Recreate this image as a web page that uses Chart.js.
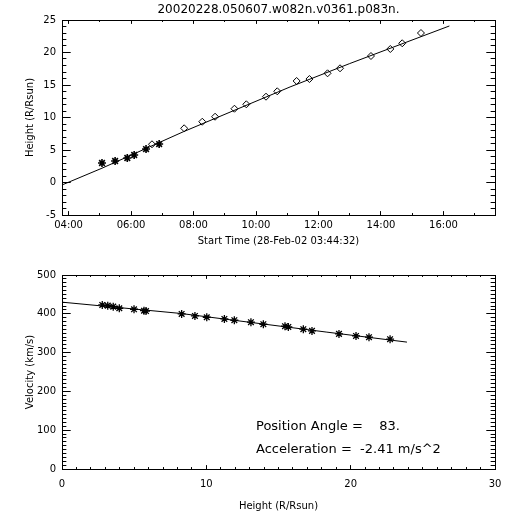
<!DOCTYPE html>
<html>
<head>
<meta charset="utf-8">
<script src="https://cdn.jsdelivr.net/npm/chart.js@4.4.0/dist/chart.umd.min.js"></script>
<style>
  body { margin: 0; background: #fff; }
  canvas { position: absolute; left: 0; }
</style>
</head>
<body>
<canvas id="topChart" width="512" height="262" style="top:0"></canvas>
<canvas id="botChart" width="512" height="250" style="top:262px"></canvas>
<script>
const plotTitle = '20020228.050607.w082n.v0361.p083n.'

// top panel: time (hours of 28-Feb-02) vs height (R/Rsun)
const starTimes = [5.07, 5.49, 5.88, 6.10, 6.48, 6.90]
const starHeights = [3.0, 3.31, 3.77, 4.23, 5.15, 5.92]
const diamondTimes = [6.67, 7.70, 8.28, 8.69, 9.31, 9.69, 10.32, 10.68, 11.30, 11.71, 12.29, 12.69, 13.68, 14.30, 14.68, 15.28]
const diamondHeights = [5.88, 8.34, 9.35, 10.12, 11.35, 12.03, 13.2, 14.03, 15.62, 15.92, 16.8, 17.57, 19.46, 20.54, 21.42, 23.0]
const fitTimes = [3.79, 5.07, 7.67, 11.09, 13.0, 16.19]
const fitHeights = [-0.38, 2.2, 7.8, 14.7, 18.3, 24.08]
const timeTicks = [4, 6, 8, 10, 12, 14, 16]
const timeMinor = [5, 7, 9, 11, 13, 15, 17]
const heightTicks = [-5, 0, 5, 10, 15, 20, 25]

// bottom panel: height (R/Rsun) vs velocity (km/s)
const velHeights = [2.79, 3.17, 3.55, 3.97, 4.99, 5.68, 5.82, 8.29, 9.21, 10.03, 11.25, 11.94, 13.09, 13.95, 15.45, 15.68, 16.72, 17.32, 19.19, 20.37, 21.27, 22.73]
const velocities = [422.8, 421, 418.4, 414.3, 411.7, 408, 407, 399.6, 394.5, 391.1, 386.8, 383.4, 378.3, 373.1, 368, 366.2, 360.3, 355.9, 348.2, 343, 339.7, 334.5]
const velFitHeights = [0, 8.2, 18.3, 23.9]
const velFitValues = [430, 401, 353, 327]
const rTicks = [0, 10, 20, 30]
const velTicks = [0, 100, 200, 300, 400, 500]

const notes = ['Position Angle =    83.', 'Acceleration =  -2.41 m/s^2']

const FONT = 'DejaVu Sans'
Chart.defaults.color = '#000'
Chart.defaults.font.family = FONT

function pts(xs, ys) {
	return xs.map((x, i) => ({x: x, y: ys[i]}))
}

// minor tick positions between the majors
function minors(from, to, step, every) {
	const out = []
	for (let i = 0, v = from; v <= to + 1e-9; i++, v = from + i * step) {
		if (i % every) out.push(v)
	}
	return out
}

// text in the lower panel
const notesPlugin = {
	id: 'notes',
	afterDraw(chart, args, o) {
		if (!o.lines) return
		const ctx = chart.ctx, a = chart.chartArea
		ctx.save()
		ctx.fillStyle = '#000'
		ctx.font = '13px "' + FONT + '"'
		ctx.textBaseline = 'alphabetic'
		o.lines.forEach((t, i) => ctx.fillText(t, a.left + 194, a.top + 155 + i * 23))
		ctx.restore()
	}
}

// zero-size axis that only draws inward tick marks (and optionally the box edge)
function tickAxis(pos, min, max, values, len, border) {
	return {
		type: 'linear', position: pos, min: min, max: max, weight: 0,
		afterBuildTicks: s => { s.ticks = values.map(v => ({value: v})) },
		afterFit: s => { if (s.isHorizontal()) s.height = 0; else s.width = 0 },
		ticks: {display: false},
		grid: {display: true, drawOnChartArea: false, drawTicks: true, tickLength: -len, tickColor: '#000'},
		border: {display: border, color: '#000', width: 1},
	}
}

// labelled axis (bottom / left), no tick marks of its own
function mainAxis(min, max, values, extra) {
	return Object.assign({
		type: 'linear', min: min, max: max, weight: 1,
		afterBuildTicks: s => { s.ticks = values.map(v => ({value: v})) },
		grid: {display: false, drawTicks: false},
		border: {display: true, color: '#000', width: 1},
	}, extra)
}

// top chart
const tXLen = 3.9, tYLen = 8.7
const hMinor = minors(-5, 25, 1, 5)
new Chart(document.getElementById('topChart'), {
	type: 'scatter',
	data: {
		datasets: [
			{data: pts(fitTimes, fitHeights), showLine: true, borderColor: '#000', borderWidth: 1, pointRadius: 0},
			{data: pts(starTimes, starHeights), pointStyle: 'star', pointRadius: 4, borderColor: '#000', borderWidth: 1.6},
			{data: pts(diamondTimes, diamondHeights), pointStyle: 'rectRot', pointRadius: 3.5, borderColor: '#000', backgroundColor: '#fff', borderWidth: 1},
		]
	},
	options: {
		responsive: false,
		animation: false,
		layout: {padding: {left: 0, right: 17, top: 0, bottom: 0}},
		plugins: {
			legend: {display: false},
			tooltip: {enabled: false},
			title: {display: true, text: plotTitle, fullSize: false, font: {size: 12, weight: 'normal'}, padding: {top: 3, bottom: 2.6}},
		},
		scales: {
			x: mainAxis(3.79, 17.65, timeTicks, {
				position: 'bottom',
				afterFit: s => { s.height = 47 },
				ticks: {padding: 4, maxRotation: 0, font: {size: 10}, callback: v => String(v).padStart(2, '0') + ':00'},
				title: {display: true, text: 'Start Time (28-Feb-02 03:44:32)', font: {size: 10}, padding: {top: 0, bottom: 15}},
			}),
			y: mainAxis(-5, 25, heightTicks, {
				position: 'left',
				afterFit: s => { s.width = 62 },
				ticks: {padding: 6, font: {size: 10}},
				title: {display: true, text: 'Height (R/Rsun)', font: {size: 10}, padding: {top: 24, bottom: 0}},
			}),
			xMajor: tickAxis('bottom', 3.79, 17.65, timeTicks, tXLen, false),
			xMinor: tickAxis('bottom', 3.79, 17.65, timeMinor, tXLen / 2, false),
			yMajor: tickAxis('left', -5, 25, heightTicks, tYLen, false),
			yMinor: tickAxis('left', -5, 25, hMinor, tYLen / 2, false),
			x2: tickAxis('top', 3.79, 17.65, timeTicks, tXLen, true),
			x2Minor: tickAxis('top', 3.79, 17.65, timeMinor, tXLen / 2, false),
			y2: tickAxis('right', -5, 25, heightTicks, tYLen, true),
			y2Minor: tickAxis('right', -5, 25, hMinor, tYLen / 2, false),
		}
	}
})

// bottom chart
const bXLen = 3.9, bYLen = 8.7
const rMinor = minors(0, 30, 1, 10)
const vMinor = minors(0, 500, 10, 10)
new Chart(document.getElementById('botChart'), {
	type: 'scatter',
	data: {
		datasets: [
			{data: pts(velFitHeights, velFitValues), showLine: true, borderColor: '#000', borderWidth: 1, pointRadius: 0},
			{data: pts(velHeights, velocities), pointStyle: 'star', pointRadius: 4, borderColor: '#000', borderWidth: 1.3},
		]
	},
	options: {
		responsive: false,
		animation: false,
		layout: {padding: {left: 0, right: 17, top: 13, bottom: 0}},
		plugins: {
			legend: {display: false},
			tooltip: {enabled: false},
			notes: {lines: notes},
		},
		scales: {
			x: mainAxis(0, 30, rTicks, {
				position: 'bottom',
				afterFit: s => { s.height = 43 },
				ticks: {padding: 9, maxRotation: 0, font: {size: 10}},
				title: {display: true, text: 'Height (R/Rsun)', font: {size: 10}, padding: {top: 0, bottom: 0}},
			}),
			y: mainAxis(0, 500, velTicks, {
				position: 'left',
				afterFit: s => { s.width = 62 },
				ticks: {padding: 6, font: {size: 10}},
				title: {display: true, text: 'Velocity (km/s)', font: {size: 10}, padding: {top: 24, bottom: 0}},
			}),
			xMajor: tickAxis('bottom', 0, 30, rTicks, bXLen, false),
			xMinor: tickAxis('bottom', 0, 30, rMinor, bXLen / 2, false),
			yMajor: tickAxis('left', 0, 500, velTicks, bYLen, false),
			yMinor: tickAxis('left', 0, 500, vMinor, bYLen / 2, false),
			x2: tickAxis('top', 0, 30, rTicks, bXLen, true),
			x2Minor: tickAxis('top', 0, 30, rMinor, bXLen / 2, false),
			y2: tickAxis('right', 0, 500, velTicks, bYLen, true),
			y2Minor: tickAxis('right', 0, 500, vMinor, bYLen / 2, false),
		}
	},
	plugins: [notesPlugin]
})
</script>
</body>
</html>
